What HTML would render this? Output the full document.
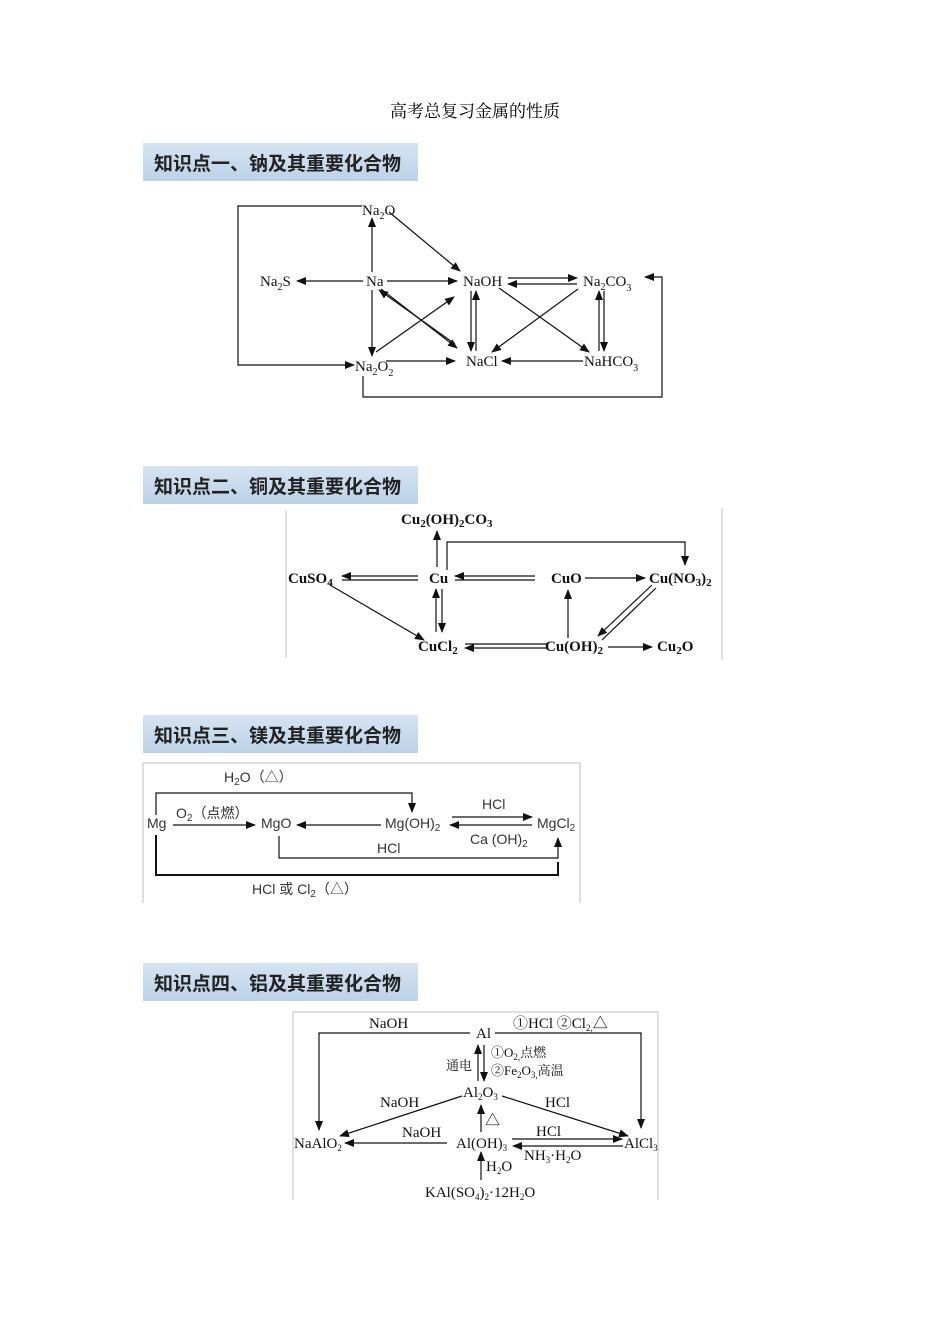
<!DOCTYPE html>
<html><head><meta charset="utf-8"><style>
html,body{margin:0;padding:0;background:#fff;}
svg{display:block;}
.t{font-family:"Liberation Serif","Noto Serif CJK SC",serif;font-size:15px;fill:#111;}
.b{font-family:"Liberation Serif","Noto Serif CJK SC",serif;font-size:15px;font-weight:bold;fill:#111;}
.s{font-family:"Liberation Sans","Noto Sans CJK SC",sans-serif;font-size:14px;fill:#333;}
.h{font-family:"Liberation Sans","Noto Sans CJK SC",sans-serif;font-size:19px;font-weight:bold;fill:#222;}
</style></head><body>
<svg width="950" height="1344" viewBox="0 0 950 1344" xmlns="http://www.w3.org/2000/svg">
<defs>
<marker id="a" markerWidth="10" markerHeight="8" refX="9" refY="4" orient="auto" markerUnits="userSpaceOnUse"><path d="M0,0 L10,4 L0,8 Z" fill="#111"/></marker>
<linearGradient id="g" x1="0" y1="0" x2="0" y2="1"><stop offset="0" stop-color="#d6e4f2"/><stop offset="1" stop-color="#bcd2e8"/></linearGradient>
</defs>
<text x="475" y="117" text-anchor="middle" style="font-family:'Liberation Serif','Noto Serif CJK SC',serif;font-size:17px;fill:#000">高考总复习金属的性质</text>

<g>
<rect x="143" y="143" width="275" height="38" fill="url(#g)"/><text class="h" x="154" y="170">知识点一、钠及其重要化合物</text>
<rect x="143" y="466" width="275" height="38" fill="url(#g)"/><text class="h" x="154" y="493">知识点二、铜及其重要化合物</text>
<rect x="143" y="715" width="275" height="38" fill="url(#g)"/><text class="h" x="154" y="742">知识点三、镁及其重要化合物</text>
<rect x="143" y="963" width="275" height="38" fill="url(#g)"/><text class="h" x="154" y="990">知识点四、铝及其重要化合物</text>
</g>

<!-- Section 1 -->
<g stroke="#111" stroke-width="1.2" fill="none">
<polyline points="362,206 238,206 238,365 354,365" marker-end="url(#a)"/>
<polyline points="363,376 363,397 662,397 662,277 645,277" marker-end="url(#a)"/>
<line x1="372" y1="272" x2="372" y2="218" marker-end="url(#a)"/>
<line x1="372" y1="290" x2="372" y2="356" marker-end="url(#a)"/>
<line x1="363" y1="281" x2="297" y2="281" marker-end="url(#a)"/>
<line x1="387" y1="281" x2="457" y2="281" marker-end="url(#a)"/>
<line x1="389" y1="212" x2="460" y2="271" marker-end="url(#a)"/>
<line x1="508" y1="278" x2="577" y2="278" marker-end="url(#a)"/>
<line x1="577" y1="284" x2="508" y2="284" marker-end="url(#a)"/>
<line x1="381" y1="289" x2="457" y2="348" marker-end="url(#a)"/>
<line x1="455" y1="344" x2="379" y2="290" marker-end="url(#a)"/>
<line x1="376" y1="352" x2="454" y2="297" marker-end="url(#a)"/>
<line x1="386" y1="361" x2="455" y2="361" marker-end="url(#a)"/>
<line x1="476" y1="351" x2="476" y2="291" marker-end="url(#a)"/>
<line x1="471" y1="291" x2="471" y2="351" marker-end="url(#a)"/>
<line x1="499" y1="288" x2="589" y2="352" marker-end="url(#a)"/>
<line x1="578" y1="289" x2="492" y2="352" marker-end="url(#a)"/>
<line x1="583" y1="361" x2="502" y2="361" marker-end="url(#a)"/>
<line x1="599" y1="351" x2="599" y2="291" marker-end="url(#a)"/>
<line x1="604" y1="291" x2="604" y2="351" marker-end="url(#a)"/>
</g>
<g class="t">
<text x="362" y="215">Na<tspan font-size="10" dy="4">2</tspan><tspan dy="-4">O</tspan></text>
<text x="260" y="286">Na<tspan font-size="10" dy="4">2</tspan><tspan dy="-4">S</tspan></text>
<text x="366" y="286">Na</text>
<text x="463" y="286">NaOH</text>
<text x="583" y="286">Na<tspan font-size="10" dy="4">2</tspan><tspan dy="-4">CO</tspan><tspan font-size="10" dy="5">3</tspan></text>
<text x="466" y="366">NaCl</text>
<text x="584" y="366">NaHCO<tspan font-size="10" dy="5">3</tspan></text>
<text x="355" y="371">Na<tspan font-size="10" dy="4">2</tspan><tspan dy="-4">O</tspan><tspan font-size="10" dy="5">2</tspan></text>
</g>

<!-- Section 2 -->
<g stroke="#111" stroke-width="1.2" fill="none">
<line x1="286" y1="510" x2="286" y2="658" stroke="#ccc"/>
<line x1="722" y1="508" x2="722" y2="660" stroke="#ccc"/>
<line x1="437" y1="567" x2="437" y2="531" marker-end="url(#a)"/>
<polyline points="447,570 447,542 685,542 685,565" marker-end="url(#a)"/>
<line x1="418" y1="576" x2="342" y2="576" marker-end="url(#a)"/>
<line x1="342" y1="580" x2="418" y2="580"/>
<line x1="535" y1="576" x2="455" y2="576" marker-end="url(#a)"/>
<line x1="455" y1="580" x2="535" y2="580"/>
<line x1="585" y1="578" x2="645" y2="578" marker-end="url(#a)"/>
<line x1="330" y1="585" x2="424" y2="640" marker-end="url(#a)"/>
<line x1="436" y1="632" x2="436" y2="589" marker-end="url(#a)"/>
<line x1="442" y1="589" x2="442" y2="632" marker-end="url(#a)"/>
<line x1="465" y1="644" x2="547" y2="644"/>
<line x1="547" y1="648" x2="465" y2="648" marker-end="url(#a)"/>
<line x1="568" y1="638" x2="568" y2="590" marker-end="url(#a)"/>
<line x1="602" y1="640" x2="656" y2="588"/>
<line x1="652" y1="585" x2="598" y2="636" marker-end="url(#a)"/>
<line x1="608" y1="647" x2="652" y2="647" marker-end="url(#a)"/>
</g>
<g class="b">
<text x="401" y="524">Cu<tspan font-size="11" dy="3">2</tspan><tspan dy="-3">(OH)</tspan><tspan font-size="11" dy="3">2</tspan><tspan dy="-3">CO</tspan><tspan font-size="11" dy="3">3</tspan></text>
<text x="288" y="583">CuSO<tspan font-size="11" dy="3">4</tspan></text>
<text x="429" y="583">Cu</text>
<text x="551" y="583">CuO</text>
<text x="649" y="583">Cu(NO<tspan font-size="11" dy="3">3</tspan><tspan dy="-3">)</tspan><tspan font-size="11" dy="3">2</tspan></text>
<text x="418" y="651">CuCl<tspan font-size="11" dy="3">2</tspan></text>
<text x="545" y="651">Cu(OH)<tspan font-size="11" dy="3">2</tspan></text>
<text x="657" y="651">Cu<tspan font-size="11" dy="3">2</tspan><tspan dy="-3">O</tspan></text>
</g>

<!-- Section 3 -->
<g stroke="#111" stroke-width="1.2" fill="none">
<polyline points="143,903 143,763 580,763 580,903" stroke="#ccc"/>
<polyline points="156,815 156,793 412,793 412,812" marker-end="url(#a)"/>
<line x1="173" y1="825" x2="255" y2="825" marker-end="url(#a)"/>
<line x1="381" y1="825" x2="297" y2="825" marker-end="url(#a)"/>
<line x1="452" y1="817" x2="532" y2="817" marker-end="url(#a)"/>
<line x1="532" y1="825" x2="450" y2="825" marker-end="url(#a)"/>
<polyline points="279,836 279,858 558,858 558,838" marker-end="url(#a)"/>
<polyline points="156,835 156,875 558,875 558,862" stroke-width="2"/>
</g>
<g class="s">
<text x="147" y="828">Mg</text>
<text x="261" y="828">MgO</text>
<text x="385" y="828">Mg(OH)<tspan font-size="10" dy="3">2</tspan></text>
<text x="537" y="828">MgCl<tspan font-size="10" dy="3">2</tspan></text>
<text x="224" y="782">H<tspan font-size="10" dy="3">2</tspan><tspan dy="-3">O（△）</tspan></text>
<text x="176" y="818">O<tspan font-size="10" dy="3">2</tspan><tspan dy="-3">（点燃）</tspan></text>
<text x="482" y="809">HCl</text>
<text x="470" y="844">Ca (OH)<tspan font-size="10" dy="3">2</tspan></text>
<text x="377" y="853">HCl</text>
<text x="252" y="894">HCl  或  Cl<tspan font-size="10" dy="3">2</tspan><tspan dy="-3">（△）</tspan></text>
</g>

<!-- Section 4 -->
<g stroke="#111" stroke-width="1.2" fill="none">
<polyline points="293,1200 293,1012 658,1012 658,1200" stroke="#ccc"/>
<polyline points="470,1033 319,1033 319,1130" marker-end="url(#a)"/>
<polyline points="495,1033 641,1033 641,1128" marker-end="url(#a)"/>
<line x1="478" y1="1081" x2="478" y2="1045" marker-end="url(#a)"/>
<line x1="484" y1="1045" x2="484" y2="1081" marker-end="url(#a)"/>
<line x1="462" y1="1096" x2="340" y2="1136" marker-end="url(#a)"/>
<line x1="502" y1="1096" x2="628" y2="1136" marker-end="url(#a)"/>
<line x1="447" y1="1143" x2="345" y2="1143" marker-end="url(#a)"/>
<line x1="512" y1="1139" x2="622" y2="1139" marker-end="url(#a)"/>
<line x1="623" y1="1146" x2="513" y2="1146" marker-end="url(#a)"/>
<line x1="481" y1="1132" x2="481" y2="1105" marker-end="url(#a)"/>
<line x1="481" y1="1180" x2="481" y2="1152" marker-end="url(#a)"/>
</g>
<g class="t" font-size="14">
<text x="476" y="1038">Al</text>
<text x="369" y="1028">NaOH</text>
<text x="513" y="1028">①HCl  ②Cl<tspan font-size="9" dy="3">2,</tspan><tspan dy="-3">△</tspan></text>
<text x="446" y="1070" font-size="13">通电</text>
<text x="491" y="1057" font-size="13">①O<tspan font-size="9" dy="3">2,</tspan><tspan dy="-3">点燃</tspan></text>
<text x="491" y="1075" font-size="13">②Fe<tspan font-size="9" dy="3">2</tspan><tspan dy="-3">O</tspan><tspan font-size="9" dy="3">3,</tspan><tspan dy="-3">高温</tspan></text>
<text x="463" y="1097">Al<tspan font-size="9" dy="3">2</tspan><tspan dy="-3">O</tspan><tspan font-size="9" dy="3">3</tspan></text>
<text x="380" y="1107">NaOH</text>
<text x="545" y="1107">HCl</text>
<text x="294" y="1148">NaAlO<tspan font-size="9" dy="3">2</tspan></text>
<text x="402" y="1137">NaOH</text>
<text x="456" y="1148">Al(OH)<tspan font-size="9" dy="3">3</tspan></text>
<text x="536" y="1136">HCl</text>
<text x="624" y="1148">AlCl<tspan font-size="9" dy="3">3</tspan></text>
<text x="524" y="1160">NH<tspan font-size="9" dy="3">3</tspan><tspan dy="-3">·H</tspan><tspan font-size="9" dy="3">2</tspan><tspan dy="-3">O</tspan></text>
<text x="485" y="1125">△</text>
<text x="486" y="1171">H<tspan font-size="9" dy="3">2</tspan><tspan dy="-3">O</tspan></text>
<text x="425" y="1197">KAl(SO<tspan font-size="9" dy="3">4</tspan><tspan dy="-3">)</tspan><tspan font-size="9" dy="3">2</tspan><tspan dy="-3">·12H</tspan><tspan font-size="9" dy="3">2</tspan><tspan dy="-3">O</tspan></text>
</g>
</svg>
</body></html>
